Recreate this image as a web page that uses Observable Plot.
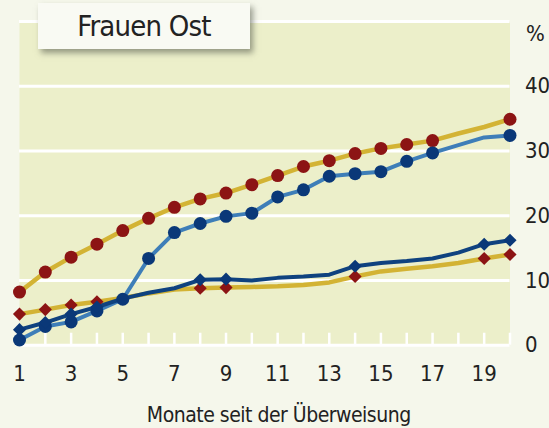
<!DOCTYPE html>
<html><head><meta charset="utf-8">
<script src="https://cdn.jsdelivr.net/npm/d3@7"></script>
<script src="https://cdn.jsdelivr.net/npm/@observablehq/plot@0.6"></script>
<style>
body{margin:0;background:#F5F7EB;}
#wrap{position:relative;width:549px;height:428px;overflow:hidden;background:#F5F7EB;}
#wrap svg{position:absolute;left:0;top:0;}
#title{position:absolute;left:38px;top:3px;width:212px;height:46px;background:#F9FAF3;
 box-shadow:3px 4px 6px rgba(90,95,80,0.6);font-family:'Liberation Sans Narrow','DejaVu Sans Condensed',sans-serif;
 font-size:29px;letter-spacing:-0.8px;color:#222;text-align:center;line-height:46px;}
</style></head>
<body><div id="wrap"><div id="title">Frauen Ost</div></div>
<script>
const months = [1,2,3,4,5,6,7,8,9,10,11,12,13,14,15,16,17,18,19,20];
const seriesA = [8.2,11.3,13.6,15.6,17.7,19.6,21.3,22.6,23.5,24.8,26.2,27.6,28.5,29.6,30.4,31.0,31.6,32.7,33.7,34.9];
const seriesB = [0.8,2.9,3.6,5.3,7.1,13.4,17.4,18.8,19.9,20.4,22.9,24.0,26.1,26.5,26.8,28.4,29.7,30.9,32.1,32.4];
const seriesC = [2.4,3.5,4.8,5.9,7.2,8.1,8.8,10.1,10.2,10.0,10.4,10.6,10.9,12.2,12.7,13.0,13.4,14.3,15.6,16.2];
const seriesD = [4.8,5.5,6.2,6.7,7.3,8.0,8.6,8.8,8.9,9.0,9.1,9.3,9.7,10.6,11.4,11.8,12.2,12.7,13.4,14.0];
const circleMonths = [1,2,3,4,5,6,7,8,9,10,11,12,13,14,15,16,17,20];
const diamondMonths = [1,2,3,4,8,9,14,19,20];
const xTickLabels = [1,3,5,7,9,11,13,15,17,19];
const yTickLabels = [0,10,20,30,40];
const gridValues = [0,10,20,30,40,50];
const title = "Frauen Ost";
const xTitle = "Monate seit der Überweisung";
const yUnit = "%";

const fontFamily = "'Liberation Sans Narrow','DejaVu Sans Condensed',sans-serif";
const rows = s => months.map((m, i) => ({month: m, value: s[i]}));
const A = rows(seriesA), B = rows(seriesB), C = rows(seriesC), D = rows(seriesD);
const pick = (r, ms) => r.filter(d => ms.includes(d.month));

const yellow = "#D3B334", red = "#8C1414", lightBlue = "#3E7EB8", darkBlue = "#0A3878", darkLine = "#0F427F";

const chart = Plot.plot({
  width: 549, height: 428,
  marginLeft: 19, marginRight: 39.5, marginTop: 21, marginBottom: 83.3,
  style: {background: "transparent", fontFamily, fontSize: "22px", color: "#222"},
  x: {domain: [1, 20]},
  y: {domain: [0, 50]},
  marks: [
    Plot.frame({fill: "#ECEFCA", stroke: null}),
    Plot.ruleY(gridValues, {stroke: "white", strokeWidth: 3}),
    Plot.ruleX(months, {x: d => d, y1: 0, y2: 1.85, stroke: "white", strokeWidth: 2.5}),
    Plot.axisX({ticks: xTickLabels, tickSize: 0, tickPadding: 20, fontSize: 22, label: null}),
    Plot.text([xTitle], {frameAnchor: "bottom", dx: 14, dy: 77, lineAnchor: "bottom", fontSize: 21}),
    Plot.axisY({anchor: "right", ticks: yTickLabels, tickSize: 0, tickPadding: 15, fontSize: 22, label: null}),
    Plot.text([yUnit], {frameAnchor: "top-right", dx: 16, dy: 12, textAnchor: "start", lineAnchor: "middle", fontSize: 22}),
    Plot.line(A, {x: "month", y: "value", stroke: yellow, strokeWidth: 4.5}),
    Plot.line(D, {x: "month", y: "value", stroke: yellow, strokeWidth: 4.5}),
    Plot.line(B, {x: "month", y: "value", stroke: lightBlue, strokeWidth: 4}),
    Plot.line(C, {x: "month", y: "value", stroke: darkLine, strokeWidth: 4}),
    Plot.dot(pick(A, circleMonths), {x: "month", y: "value", r: 6.5, fill: red}),
    Plot.dot(pick(D, diamondMonths), {x: "month", y: "value", r: 5.9, symbol: "diamond2", fill: red}),
    Plot.dot(pick(B, circleMonths), {x: "month", y: "value", r: 6.5, fill: darkBlue}),
    Plot.dot(pick(C, diamondMonths), {x: "month", y: "value", r: 5.9, symbol: "diamond2", fill: darkBlue})
  ]
});
d3.select(chart).selectAll("text").filter(function () { return this.textContent === xTitle; })
  .style("letter-spacing", "-0.5px");
const wrap = document.getElementById("wrap");
wrap.insertBefore(chart, document.getElementById("title"));
</script>
</body></html>
